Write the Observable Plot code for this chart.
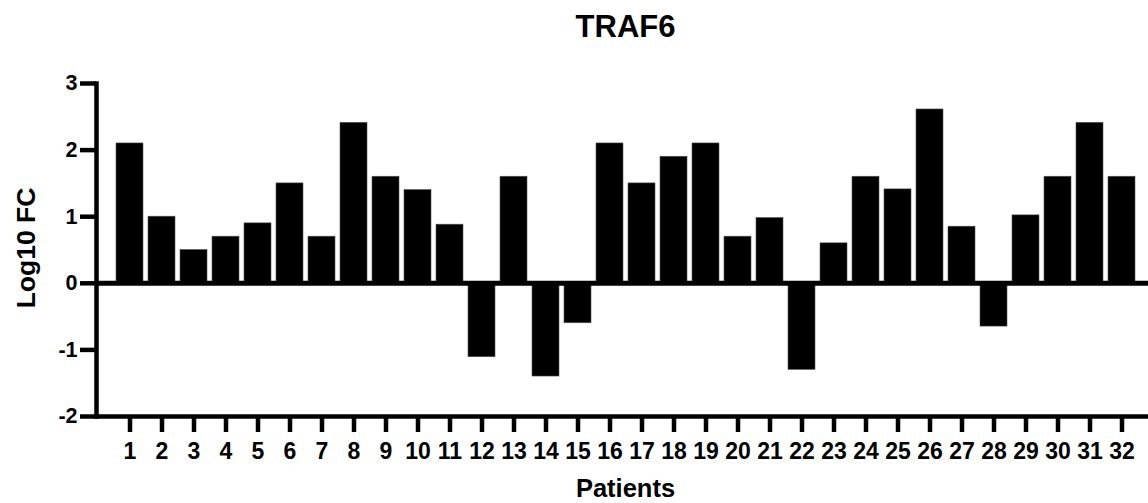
<!DOCTYPE html>
<html>
<head>
<meta charset="utf-8">
<script src="https://cdn.jsdelivr.net/npm/d3@7"></script>
<script src="https://cdn.jsdelivr.net/npm/@observablehq/plot@0.6"></script>
<style>
  html, body { margin: 0; padding: 0; background: #fff; }
  #chart svg { display: block; }
</style>
</head>
<body>
<div id="chart"></div>
<script>
const title = "TRAF6";
const xLabel = "Patients";
const yLabel = "Log10 FC";
const patients = ["1","2","3","4","5","6","7","8","9","10","11","12","13","14","15","16",
                  "17","18","19","20","21","22","23","24","25","26","27","28","29","30","31","32"];
const log10FC = [2.1, 1.0, 0.5, 0.7, 0.9, 1.5, 0.7, 2.41, 1.6, 1.4, 0.88, -1.11, 1.6, -1.4, -0.6, 2.1,
                 1.5, 1.9, 2.1, 0.7, 0.98, -1.3, 0.6, 1.6, 1.41, 2.61, 0.85, -0.65, 1.02, 1.6, 2.41, 1.6];
const yTicks = [-2, -1, 0, 1, 2, 3];

const data = patients.map((p, i) => ({patient: p, value: log10FC[i]}));
const font = "'Liberation Sans', Arial, Helvetica, sans-serif";

const plot = Plot.plot({
  width: 1148,
  height: 503,
  marginLeft: 96,
  marginRight: 0,
  marginTop: 83,
  marginBottom: 87,
  style: {fontFamily: font, fontWeight: "bold", color: "#000", background: "#fff"},
  x: {domain: patients, range: [96, 1154], paddingInner: 0.17, paddingOuter: 0.41, align: 0.5},
  y: {domain: [-2, 3]},
  marks: [
    Plot.barY(data, {x: "patient", y: "value", fill: "#000", stroke: "#555", strokeWidth: 0.6}),
    Plot.ruleY([0], {stroke: "#000", strokeWidth: 5}),
    Plot.ruleY([-2], {stroke: "#000", strokeWidth: 4.5}),
    Plot.frame({anchor: "left", stroke: "#000", strokeWidth: 4.5}),
    Plot.axisY({ticks: yTicks, tickFormat: d => String(d), tickSize: 16, tickPadding: 3, strokeWidth: 4.5, fontSize: 21.5, fontWeight: "bold", label: null}),
    Plot.axisX({tickSize: 16, tickPadding: 10, strokeWidth: 4.5, fontSize: 23, fontWeight: "bold", label: null}),
    Plot.text([title], {frameAnchor: "top", lineAnchor: "middle", textAnchor: "middle", dx: 3, dy: -56, fontSize: 31, fontWeight: "bold", fill: "#000"}),
    Plot.text([xLabel], {frameAnchor: "bottom", lineAnchor: "bottom", textAnchor: "middle", dx: 3, dy: 80, fontSize: 25.5, fontWeight: "bold", fill: "#000"}),
    Plot.text([yLabel], {frameAnchor: "left", lineAnchor: "middle", textAnchor: "middle", rotate: -90, dx: -70, dy: -2, fontSize: 26.5, fontWeight: "bold", fill: "#000"})
  ]
});
document.getElementById("chart").appendChild(plot);
</script>
</body>
</html>
